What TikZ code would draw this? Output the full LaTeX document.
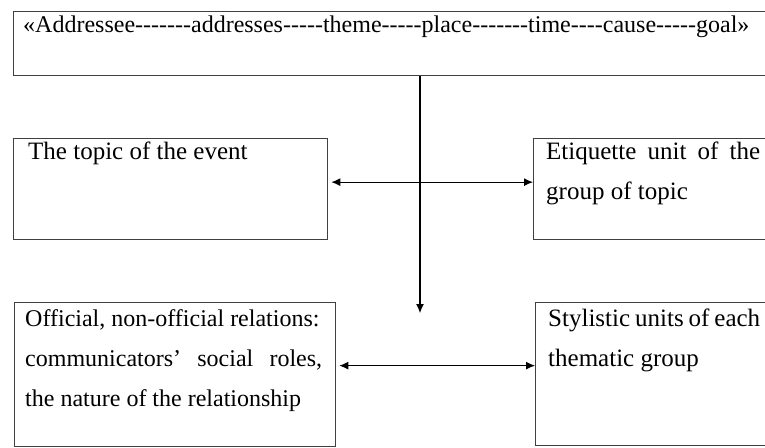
\documentclass[tikz,border=0pt]{standalone}
\usepackage{fontspec}
\setmainfont{Liberation Serif}
\newfontfamily\dashfont{Liberation Serif}[Ligatures=TeXOff]
\usetikzlibrary{arrows.meta,positioning}

\begin{document}
\begin{tikzpicture}[x=1pt,y=-1pt,>={Latex[length=9pt,width=8pt]},
                    box/.style={rectangle,draw=black!75,line width=1.3pt,anchor=north west,inner sep=0pt},
                    boxtext/.style={anchor=north west,inner sep=0pt,font=\fontsize{25}{40}\selectfont,align=justify},
                    link/.style={line width=1.1pt,black}]
\useasboundingbox (0,0) rectangle (765,447);
% boxes
\node[box,minimum width=800pt,minimum height=64pt] (top) at (13,11) {};
\node[box,minimum width=314pt,minimum height=101pt] (topic) at (13,138) {};
\node[box,minimum width=300pt,minimum height=101pt] (etiquette) at (533,138) {};
\node[box,minimum width=321pt,minimum height=144pt] (relations) at (14,302) {};
\node[box,minimum width=300pt,minimum height=143pt] (stylistic) at (535,302) {};
% texts
\node[anchor=base west,inner sep=0pt,font=\dashfont\fontsize{24}{28}\selectfont] (toptext) at ([shift={(10,21)}]top.north west)
  {«Addressee-------addresses-----theme-----place-------time----cause-----goal»};
\node[boxtext,text width=230pt] (topictext) at ([shift={(15,4)}]topic.north west) {The topic of the event};
\node[boxtext,text width=214pt] (etiquettetext) at ([shift={(13,4)}]etiquette.north west)
  {Etiquette unit of the\linebreak group of topic};
\node[boxtext,text width=297pt,font=\fontsize{24}{40}\selectfont] (relationstext) at ([shift={(11,7)}]relations.north west)
  {\mbox{Official, non-official relations:}\linebreak communicators’ social roles,\linebreak the nature of the relationship};
\node[boxtext,text width=212pt] (stylistictext) at ([shift={(13,7)}]stylistic.north west)
  {Stylistic units of each\linebreak thematic group};
% connectors
\coordinate (vend) at (420,313);
\draw[link,->] (top.south -| vend) -- (vend);
\draw[link,<->,shorten <=3pt] ([yshift=7pt]topic.east) -- ([yshift=7pt]etiquette.west);
\draw[link,<->,shorten <=3pt] ([yshift=9pt]relations.east) -- ([yshift=9pt]relations.east -| stylistic.west);
\end{tikzpicture}
\end{document}
